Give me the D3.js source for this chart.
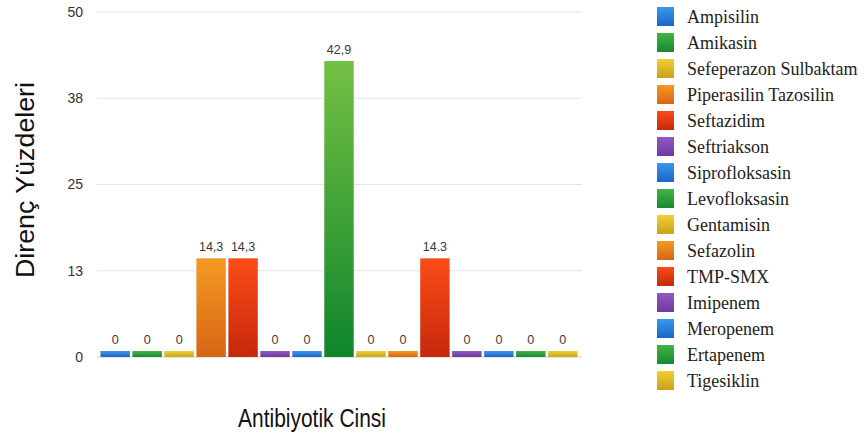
<!DOCTYPE html>
<html>
<head>
<meta charset="utf-8">
<script src="https://cdn.jsdelivr.net/npm/d3@7"></script>
<style>
  body { margin: 0; background: #fff; }
  svg { display: block; }
  .tick-lab { font-family: "Liberation Sans", Arial, sans-serif; font-size: 14px; fill: #333; }
  .bar-lab { font-family: "Liberation Sans", Arial, sans-serif; font-size: 12.5px; fill: #3a3a3a; }
  .axis-title { font-family: "Liberation Sans", Arial, sans-serif; font-size: 25px; fill: #111; }
  .legend-lab { font-family: "Liberation Serif", "Times New Roman", serif; font-size: 18px; fill: #222; }
</style>
</head>
<body>
<div id="chart"></div>
<script>
// antibiotics, in bar order
const antibiotics = ["Ampisilin", "Amikasin", "Sefeperazon Sulbaktam", "Piperasilin Tazosilin",
    "Seftazidim", "Seftriakson", "Siprofloksasin", "Levofloksasin", "Gentamisin", "Sefazolin",
    "TMP-SMX", "Imipenem", "Meropenem", "Ertapenem", "Tigesiklin"];

// resistance percentages
const values = [0, 0, 0, 14.3, 14.3, 0, 0, 42.9, 0, 0, 14.3, 0, 0, 0, 0];

// labels as printed above the bars
const valueLabels = ["0", "0", "0", "14,3", "14,3", "0", "0", "42,9", "0", "0", "14.3", "0", "0", "0", "0"];

// y axis ticks
const yTicks = [0, 12.5, 25, 37.5, 50];

// colour cycle (top, bottom of gradient)
const palette = [
    ["#3a97ec", "#1a67c8"],   // blue
    ["#44b347", "#178a2f"],   // green
    ["#f0d030", "#c9a11c"],   // yellow
    ["#f39a24", "#d86514"],   // orange
    ["#fb4c16", "#c6280b"],   // red
    ["#9458c2", "#6e3a9e"]    // purple
];

const width = 867, height = 439;
const svg = d3.select("#chart").append("svg")
    .attr("width", width)
    .attr("height", height);

const defs = svg.append("defs");
palette.forEach((c, i) => {
    const g = defs.append("linearGradient")
        .attr("id", "grad" + i)
        .attr("x1", 0).attr("y1", 0).attr("x2", 0).attr("y2", 1);
    g.append("stop").attr("offset", "0%").attr("stop-color", c[0]);
    g.append("stop").attr("offset", "100%").attr("stop-color", c[1]);
});
// the tall green bar is lighter at the top
const gTall = defs.append("linearGradient")
    .attr("id", "gradTall")
    .attr("x1", 0).attr("y1", 0).attr("x2", 0).attr("y2", 1);
gTall.append("stop").attr("offset", "0%").attr("stop-color", "#74c043");
gTall.append("stop").attr("offset", "100%").attr("stop-color", "#0f852c");

const plot = {left: 97, right: 582, top: 12, bottom: 357};

const x = d3.scaleBand()
    .domain(antibiotics)
    .range([plot.left + 3.5, plot.right - 4.5])
    .paddingInner(0.08);

const y = d3.scaleLinear()
    .domain([0, 50])
    .range([plot.bottom, plot.top]);

// gridlines
svg.append("g")
    .selectAll("line")
    .data(yTicks)
    .enter()
    .append("line")
    .attr("x1", plot.left)
    .attr("x2", plot.right)
    .attr("y1", d => y(d))
    .attr("y2", d => y(d))
    .attr("stroke", d => d === 0 ? "#d0d0d0" : "#e4e4e4")
    .attr("stroke-width", 1);

// y tick labels (rounded like the original)
svg.append("g")
    .selectAll("text")
    .data(yTicks)
    .enter()
    .append("text")
    .attr("class", "tick-lab")
    .attr("x", 83)
    .attr("y", d => y(d))
    .attr("dy", "0.35em")
    .attr("text-anchor", "end")
    .text(d => Math.round(d));

const minH = 6;   // zero values still shown as a thin bar
const barTop = d => Math.min(y(values[antibiotics.indexOf(d)]), plot.bottom - minH);

svg.append("g")
    .selectAll("rect")
    .data(antibiotics)
    .enter()
    .append("rect")
    .attr("x", d => x(d))
    .attr("y", d => barTop(d))
    .attr("width", x.bandwidth())
    .attr("height", d => plot.bottom - barTop(d))
    .attr("fill", (d, i) => values[i] > 40 ? "url(#gradTall)" : "url(#grad" + (i % palette.length) + ")");

svg.append("g")
    .selectAll("text")
    .data(antibiotics)
    .enter()
    .append("text")
    .attr("class", "bar-lab")
    .attr("x", d => x(d) + x.bandwidth() / 2)
    .attr("y", d => barTop(d) - 7)
    .attr("text-anchor", "middle")
    .text((d, i) => valueLabels[i]);

// axis titles
svg.append("text")
    .attr("class", "axis-title")
    .attr("transform", "translate(34,180) rotate(-90)")
    .attr("text-anchor", "middle")
    .attr("textLength", 196)
    .attr("lengthAdjust", "spacingAndGlyphs")
    .text("Direnç Yüzdeleri");

svg.append("text")
    .attr("class", "axis-title")
    .attr("x", 312)
    .attr("y", 427)
    .attr("text-anchor", "middle")
    .attr("textLength", 148)
    .attr("lengthAdjust", "spacingAndGlyphs")
    .text("Antibiyotik Cinsi");

// legend
const legend = svg.append("g")
    .attr("transform", "translate(657,7)");

const items = legend.selectAll("g")
    .data(antibiotics)
    .enter()
    .append("g")
    .attr("transform", (d, i) => "translate(0," + (i * 26) + ")");

items.append("rect")
    .attr("width", 17)
    .attr("height", 19)
    .attr("fill", (d, i) => "url(#grad" + (i % palette.length) + ")");

items.append("text")
    .attr("class", "legend-lab")
    .attr("x", 30)
    .attr("y", 16)
    .text(d => d);
</script>
</body>
</html>
